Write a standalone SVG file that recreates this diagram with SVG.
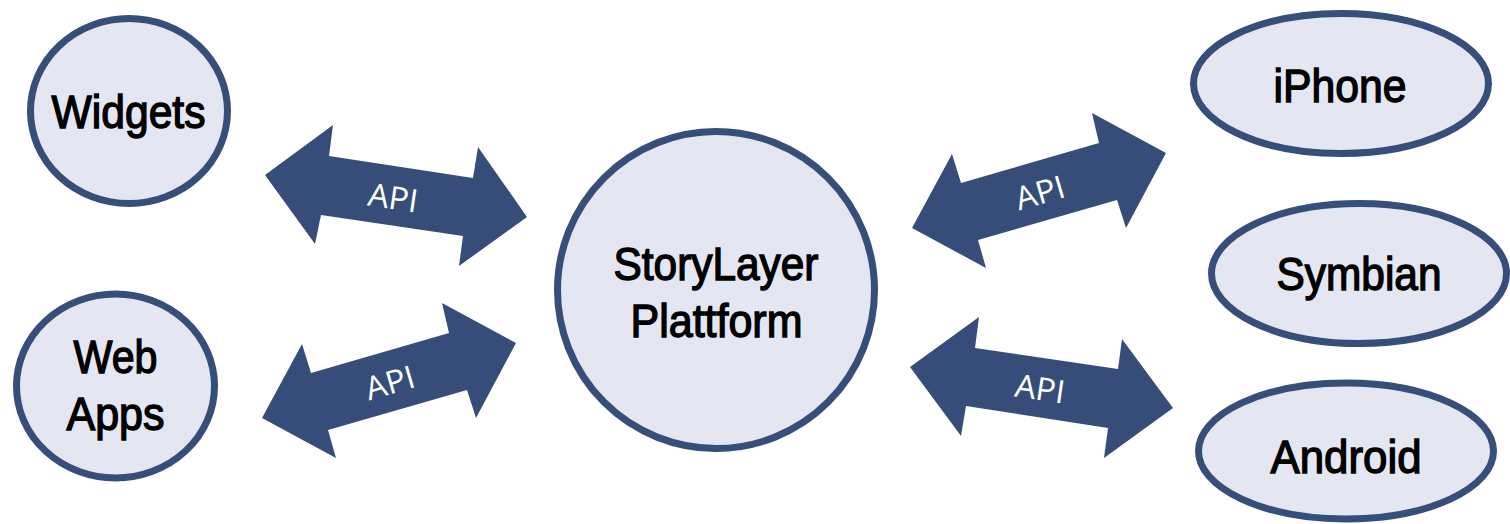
<svg xmlns="http://www.w3.org/2000/svg" width="1510" height="524" viewBox="0 0 1510 524">
<style>
.node{fill:#E4E7F1;stroke:#364E7A;stroke-width:7}
.lbl{font-family:"Liberation Sans Narrow","Arial Narrow","Liberation Sans",Arial,sans-serif;font-weight:normal;font-size:47px;fill:#000;stroke:#000;stroke-width:1.4;text-anchor:middle}
.arrow{fill:#364D79}
.api{font-family:"Open Sans","Noto Sans","Liberation Sans",sans-serif;font-size:32px;fill:#fff;text-anchor:middle}
</style>
<rect width="1510" height="524" fill="#fff"/>
<g id="connectors">
  <g id="arrow-widgets">
    <polygon class="arrow" points="265,175 333,125 329,156 473,178 478,147 527,217 459,266 463,236 321,215 315,244"/>
    <text class="api" transform="translate(393,198) rotate(8.5)" x="0" y="11" textLength="50" lengthAdjust="spacingAndGlyphs">API</text>
  </g>
  <g id="arrow-webapps">
    <polygon class="arrow" points="262,418 302,344 311,373 449,333 442,303 516,343 476,418 467,390 328,430 336,458"/>
    <text class="api" transform="translate(390,383) rotate(-16.2)" x="0" y="11" textLength="50" lengthAdjust="spacingAndGlyphs">API</text>
  </g>
  <g id="arrow-iphone">
    <polygon class="arrow" points="912,228 952,154 961,183 1099,143 1092,113 1166,153 1126,228 1117,200 978,240 986,268"/>
    <text class="api" transform="translate(1040,193) rotate(-16.2)" x="0" y="11" textLength="50" lengthAdjust="spacingAndGlyphs">API</text>
  </g>
  <g id="arrow-android">
    <polygon class="arrow" points="910,367 979,317 975,348 1118,369 1122,339 1173,408 1104,458 1108,428 966,406 961,436"/>
    <text class="api" transform="translate(1040,389) rotate(8.5)" x="0" y="11" textLength="50" lengthAdjust="spacingAndGlyphs">API</text>
  </g>
</g>
<g id="widgets">
  <ellipse class="node" cx="129" cy="111" rx="98.5" ry="92.5"/>
  <text class="lbl" x="128.5" y="128" textLength="154" lengthAdjust="spacingAndGlyphs">Widgets</text>
</g>
<g id="webapps">
  <ellipse class="node" cx="115.5" cy="386" rx="99" ry="92"/>
  <text class="lbl" x="115.5" y="373" textLength="84" lengthAdjust="spacingAndGlyphs">Web</text>
  <text class="lbl" x="115.5" y="430" textLength="98" lengthAdjust="spacingAndGlyphs">Apps</text>
</g>
<g id="storylayer">
  <circle class="node" cx="716" cy="290" r="158.5"/>
  <text class="lbl" x="716" y="280" textLength="205" lengthAdjust="spacingAndGlyphs">StoryLayer</text>
  <text class="lbl" x="716.5" y="337" textLength="172" lengthAdjust="spacingAndGlyphs">Plattform</text>
</g>
<g id="iphone">
  <ellipse class="node" cx="1341" cy="83.5" rx="147.5" ry="70"/>
  <text class="lbl" x="1340" y="102" textLength="133" lengthAdjust="spacingAndGlyphs">iPhone</text>
</g>
<g id="symbian">
  <ellipse class="node" cx="1359" cy="273.5" rx="147.5" ry="70"/>
  <text class="lbl" x="1359" y="290" textLength="165" lengthAdjust="spacingAndGlyphs">Symbian</text>
</g>
<g id="android">
  <ellipse class="node" cx="1346" cy="451" rx="147.5" ry="68"/>
  <text class="lbl" x="1346" y="473" textLength="151" lengthAdjust="spacingAndGlyphs">Android</text>
</g>
</svg>
